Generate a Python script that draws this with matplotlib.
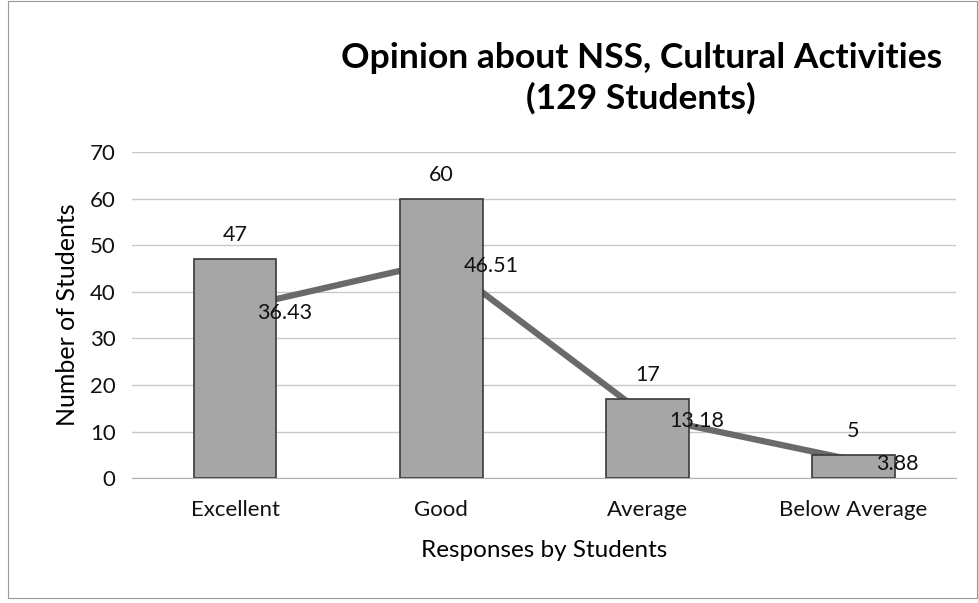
import numpy as np
from matplotlib import pyplot as plt
from matplotlib.patches import Rectangle

plt.rcParams['font.family'] = ['Lato', 'DejaVu Sans']

categories = ["Excellent", "Good", "Average", "Below Average"]
students = [47, 60, 17, 5]
percent = [36.43, 46.51, 13.18, 3.88]
yticks = [0, 10, 20, 30, 40, 50, 60, 70]

fig = plt.figure(figsize=(9.79, 6.03), dpi=100)
ax = fig.add_axes([0.135, 0.207, 0.842, 0.541])

x = np.arange(len(categories))

# line behind the bars, as in the original
ax.plot(x, percent, color="#6a6a6a", lw=4.5, zorder=2, solid_capstyle="butt")
ax.bar(x, students, width=0.4, color="#a6a6a6", edgecolor="#3a3a3a", lw=1.2, zorder=3)

for xi, v in zip(x, students):
	ax.annotate(str(v), (xi, v), xytext=(0, 10), textcoords="offset points",
		ha="center", va="bottom", fontsize=15.5, color="#111111", zorder=5)
for xi, p in zip(x, percent):
	ax.annotate("{:.2f}".format(p), (xi, p), xytext=(16, -3), textcoords="offset points",
		ha="left", va="center", fontsize=15.5, color="#111111", zorder=5)

ax.set_xlim(-0.5, 3.5)
ax.set_ylim(0, 70)
ax.set_yticks(yticks)
ax.set_xticks(x)
ax.set_xticklabels(categories)
ax.tick_params(axis="both", length=0, labelsize=16, colors="#111111")
ax.tick_params(axis="x", pad=16)
ax.tick_params(axis="y", pad=12)
ax.grid(axis="y", color="#c8c8c8", lw=1.0, zorder=0)
ax.set_axisbelow(True)
for s in ["top", "right", "left"]:
	ax.spines[s].set_visible(False)
ax.spines["bottom"].set_color("#b0b0b0")

ax.set_ylabel("Number of Students", fontsize=18, labelpad=8)
ax.set_xlabel("Responses by Students", fontsize=17.5, labelpad=14)

fig.text(0.655, 0.871, "Opinion about NSS, Cultural Activities\n(129 Students)",
	ha="center", va="center", fontsize=25.5, fontweight="bold", linespacing=1.3)

fig.patches.append(Rectangle((0.008, 0.008), 0.99, 0.99, transform=fig.transFigure,
	fill=False, edgecolor="#999999", lw=0.8))

plt.savefig("out.png", dpi=100)
